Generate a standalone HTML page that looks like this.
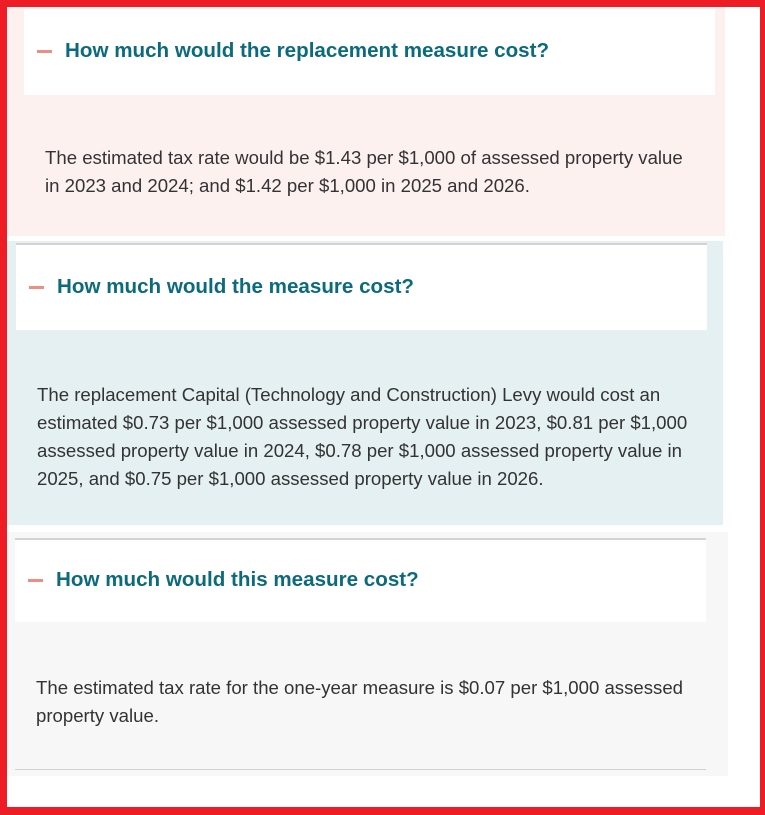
<!DOCTYPE html>
<html><head><meta charset="utf-8"><style>
*{margin:0;padding:0;box-sizing:border-box}
body{width:765px;height:815px;background:#fff;position:relative;overflow:hidden;font-family:"Liberation Sans",Arial,sans-serif}
.frame{position:absolute;left:0;top:0;width:765px;height:815px;border:7px solid #ee1c25;border-right-width:5px;border-bottom-width:8px;z-index:5;pointer-events:none}
.bg{position:absolute}
.hdr{position:absolute;background:#fff}
.h{position:absolute;font-weight:bold;font-size:20.6px;color:#0b6b7c;white-space:nowrap;line-height:24px}
.dash{position:absolute;width:15px;height:3px;background:#ee8d80}
.p{position:absolute;font-size:18.6px;color:#333;line-height:28px;white-space:nowrap}
.line{position:absolute;height:2px;background:#d3d3d3}
</style></head><body>
<div class="frame"></div>

<div class="bg" style="left:7px;top:7px;width:718px;height:229px;background:#fcf1ef"></div>
<div class="hdr" style="left:24px;top:9px;width:691px;height:86px"></div>
<div class="dash" style="left:37px;top:50px"></div>
<div class="h" style="left:65px;top:39px">How much would the replacement measure cost?</div>
<div class="p" style="left:45px;top:144px">The estimated tax rate would be $1.43 per $1,000 of assessed property value<br>in 2023 and 2024; and $1.42 per $1,000 in 2025 and 2026.</div>

<div class="bg" style="left:7px;top:241px;width:716px;height:284px;background:#e4f0f1"></div>
<div class="line" style="left:16px;top:243px;width:691px"></div>
<div class="hdr" style="left:16px;top:245px;width:691px;height:85px"></div>
<div class="dash" style="left:29px;top:286px"></div>
<div class="h" style="left:57px;top:275px">How much would the measure cost?</div>
<div class="p" style="left:37px;top:381px">The replacement Capital (Technology and Construction) Levy would cost an<br>estimated $0.73 per $1,000 assessed property value in 2023, $0.81 per $1,000<br>assessed property value in 2024, $0.78 per $1,000 assessed property value in<br>2025, and $0.75 per $1,000 assessed property value in 2026.</div>

<div class="bg" style="left:7px;top:532px;width:721px;height:244px;background:#f7f7f7"></div>
<div class="line" style="left:15px;top:538px;width:691px"></div>
<div class="hdr" style="left:15px;top:540px;width:691px;height:82px"></div>
<div class="dash" style="left:28px;top:579px"></div>
<div class="h" style="left:56px;top:568px">How much would this measure cost?</div>
<div class="p" style="left:36px;top:674px">The estimated tax rate for the one-year measure is $0.07 per $1,000 assessed<br>property value.</div>
<div class="line" style="left:15px;top:769px;width:691px;height:1px"></div>
</body></html>
